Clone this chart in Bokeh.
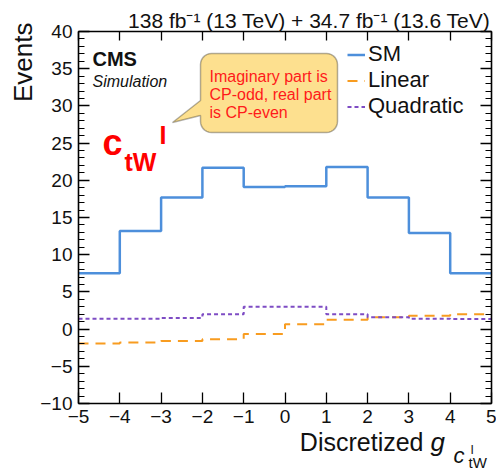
import numpy as np
from bokeh.plotting import figure
from bokeh.models import (LinearAxis, FixedTicker, Label, Legend, LegendItem,
                          PolyAnnotation, Range1d)
from bokeh.embed import file_html
from bokeh.resources import INLINE

# ---------------- data ----------------
bin_edges = [-5, -4, -3, -2, -1, 0, 1, 2, 3, 4, 5]
sm_events = [7.5, 13.2, 17.7, 21.7, 19.1, 19.2, 21.8, 17.7, 12.9, 7.5]
linear_events = [-1.95, -1.8, -1.6, -1.35, -0.65, 0.65, 1.25, 1.6, 1.8, 2.0]
quadratic_events = [1.4, 1.4, 1.5, 2.0, 3.0, 3.0, 2.0, 1.6, 1.4, 1.35]
series_names = ["SM", "Linear", "Quadratic"]
x_ticks = [-5, -4, -3, -2, -1, 0, 1, 2, 3, 4, 5]
y_ticks = [-10, -5, 0, 5, 10, 15, 20, 25, 30, 35, 40]
y_minor = list(range(-10, 41))
lumi_text = "138 fb\u207b\u00b9 (13 TeV) + 34.7 fb\u207b\u00b9 (13.6 TeV)"
bubble_lines = ["Imaginary part is", "CP-odd, real part", "is CP-even"]

FONT = "Liberation Sans"
X0, X1, Y0, Y1 = -5, 5, -10, 40

# layout: canvas size and plot-area box in pixels
W, H = 496, 472
PL, PR, PT, PB = 78, 491, 31, 403
sx = (PR - PL) / (X1 - X0)
sy = (PB - PT) / (Y1 - Y0)
x_range = Range1d(X0 - PL / sx, X1 + (W - PR) / sx)
y_range = Range1d(Y0 - (H - PB) / sy, Y1 + PT / sy)

p = figure(width=W, height=H, x_range=x_range, y_range=y_range,
           min_border=0, output_backend="svg", toolbar_location=None,
           x_axis_type=None, y_axis_type=None)
p.grid.visible = False
p.outline_line_color = None
p.background_fill_color = "white"
p.border_fill_color = "white"

def minus(v):
    return str(v).replace("-", "\u2212")

def make_axis(side, ticks, minor, labels, loc, bounds, tick_in=11):
    ax = LinearAxis(fixed_location=loc, bounds=bounds)
    ax.ticker = FixedTicker(ticks=ticks, minor_ticks=minor)
    ax.major_tick_in = tick_in
    ax.major_tick_out = 0
    ax.minor_tick_in = 6
    ax.minor_tick_out = 0
    ax.axis_line_color = "black"
    ax.axis_line_width = 1.6
    ax.major_tick_line_width = 1.3
    ax.minor_tick_line_width = 1.1
    if not minor:
        ax.minor_tick_line_color = None
    if labels:
        ax.major_label_overrides = {t: minus(t) for t in ticks}
        ax.major_label_text_font = FONT
        ax.major_label_text_font_size = "19px"
        ax.major_label_text_color = "#111111"
        ax.major_label_standoff = 6
    else:
        ax.major_label_text_color = None
        ax.major_label_text_font_size = "0px"
        ax.major_label_standoff = 0
    p.add_layout(ax, side)

make_axis("below", x_ticks, [], True, Y0, (X0, X1))
make_axis("above", x_ticks, [], False, Y1, (X0, X1), tick_in=9)
make_axis("left", y_ticks, y_minor, True, X0, (Y0, Y1))
make_axis("right", y_ticks, y_minor, False, X1, (Y0, Y1))

# ---------------- histograms ----------------
def stairs(vals):
    return list(vals) + [vals[-1]]

r_sm = p.step(x=bin_edges, y=stairs(sm_events), mode="after",
              line_color="#4d8fdb", line_width=2.5)
r_lin = p.step(x=bin_edges, y=stairs(linear_events), mode="after",
               line_color="#f89c20", line_width=2, line_dash="10 7")
r_quad = p.step(x=bin_edges, y=stairs(quadratic_events), mode="after",
                line_color="#7e4cc4", line_width=2, line_dash="4 3")

legend = Legend(items=[LegendItem(label=series_names[0], renderers=[r_sm]),
                       LegendItem(label=series_names[1], renderers=[r_lin]),
                       LegendItem(label=series_names[2], renderers=[r_quad])],
                location=(347, H - 119), glyph_width=18, glyph_height=23,
                label_height=23, label_standoff=3, spacing=0, padding=0,
                margin=0, border_line_color=None, background_fill_alpha=0,
                label_text_font=FONT, label_text_font_size="22px",
                label_text_color="#111111")
p.add_layout(legend)

# ---------------- annotations ----------------
def to_data(px, py):
    # px, py: pixels from the plot area's top-left corner
    return X0 + px / sx, Y1 - py / sy

def lab(text, dx, dy, size, color="#111111", style="normal", align="left",
        angle=0.0, ax=X0, ay=Y1):
    p.add_layout(Label(x=ax, y=ay, x_offset=dx, y_offset=dy, text=text,
                       text_font=FONT, text_font_size=size,
                       text_font_style=style, text_color=color,
                       text_align=align, text_baseline="middle",
                       angle=angle))

# luminosity header
lab(lumi_text, -1, 11, "21px", align="right", ax=X1, ay=Y1)
# y label
lab("Events", -56, 9, "26px", align="right", angle=np.pi / 2)
# x label
lab("Discretized", -68, -38, "25px", align="right", ax=X1, ay=Y0)
lab("g", -61, -38, "26px", style="italic", ax=X1, ay=Y0)
lab("c", -38, -52, "22px", style="italic", ax=X1, ay=Y0)
lab("I", -21, -46, "12px", ax=X1, ay=Y0)
lab("tW", -23, -59, "15px", ax=X1, ay=Y0)
# CMS
lab("CMS", 14, -27.5, "20px", style="bold")
lab("Simulation", 14, -50, "16px", style="italic")
# c_tW^I
lab("c", 24, -111, "36px", color="#ff0000", style="bold")
lab("tW", 46, -130, "25px", color="#ff0000", style="bold")
lab("I", 81, -103, "25px", color="#ff0000", style="bold")

# speech bubble (pixel geometry relative to the plot area's top-left)
L, R, T, B, rad = 122, 259, 22, 101, 11
tail = [(122, 84), (94, 91), (122, 69)]
pts = []
def arc(cx, cy, a0, a1):
    for a in np.linspace(a0, a1, 8):
        pts.append((cx + rad * np.cos(a), cy - rad * np.sin(a)))
arc(L + rad, T + rad, np.pi, np.pi / 2)
arc(R - rad, T + rad, np.pi / 2, 0)
arc(R - rad, B - rad, 0, -np.pi / 2)
arc(L + rad, B - rad, -np.pi / 2, -np.pi)
pts.extend(tail)
bx, by = zip(*[to_data(a, b) for a, b in pts])
p.add_layout(PolyAnnotation(xs=list(bx), ys=list(by), fill_color="#fde08f",
                            fill_alpha=1, line_color="black", line_width=1.5))
for i, t in enumerate(bubble_lines):
    lab(t, 131, -44.5 - 18.3 * i, "16px", color="#ff1a1a")

open("out.html", "w").write(file_html(p, INLINE))
